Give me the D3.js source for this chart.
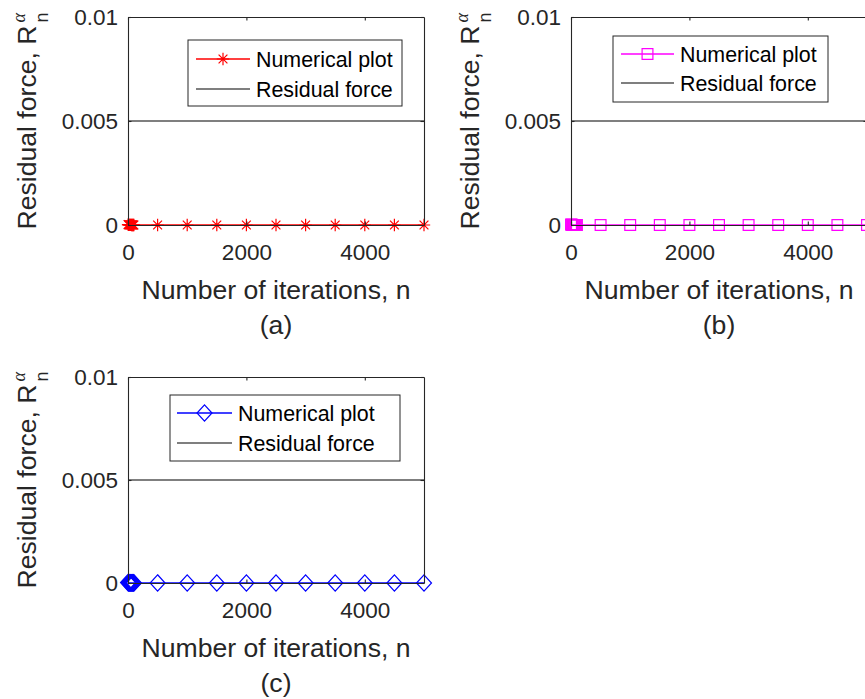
<!DOCTYPE html>
<html>
<head>
<meta charset="utf-8">
<script src="https://cdn.jsdelivr.net/npm/d3@7"></script>
<style>
  html, body { margin: 0; padding: 0; background: #fff; }
  svg { display: block; font-family: "Liberation Sans", Arial, sans-serif; }
</style>
</head>
<body>
<svg id="fig" width="865" height="699"></svg>
<script>
// Iteration numbers at which the residual was sampled
const iterations = [1, 10, 20, 30, 40, 50, 60, 70, 80, 90, 100, 500, 1000, 1500, 2000, 2500, 3000, 3500, 4000, 4500, 5000];
// Numerical residual force for the three cases
const residualA = [0.00002, 0.00001, 0.000008, 0.000006, 0.000005, 0.000004, 0.0000035, 0.000003, 0.0000025, 0.000002, 0.000002, 0.000001, 0.0000005, 0.0000003, 0.0000002, 0.0000001, 0.0000001, 0.0000001, 0.0000001, 0.0000001, 0.0000001];
const residualB = [0.00002, 0.00001, 0.000008, 0.000006, 0.000005, 0.000004, 0.0000035, 0.000003, 0.0000025, 0.000002, 0.000002, 0.000001, 0.0000005, 0.0000003, 0.0000002, 0.0000001, 0.0000001, 0.0000001, 0.0000001, 0.0000001, 0.0000001];
const residualC = [0.00002, 0.00001, 0.000008, 0.000006, 0.000005, 0.000004, 0.0000035, 0.000003, 0.0000025, 0.000002, 0.000002, 0.000001, 0.0000005, 0.0000003, 0.0000002, 0.0000001, 0.0000001, 0.0000001, 0.0000001, 0.0000001, 0.0000001];
// Residual force tolerance line
const toleranceN = [0, 5000];
const toleranceR = [0.005, 0.005];
// Axis ranges and ticks
const xDomain = [0, 5000];
const yDomain = [0, 0.01];
const xTicks = [0, 2000, 4000];
const yTicks = [0, 0.005, 0.01];
const yTickLabels = ["0", "0.005", "0.01"];
const panelTags = ["(a)", "(b)", "(c)"];
const legendLabels = ["Numerical plot", "Residual force"];

const AXIS_COLOR = "#262626";
const svg = d3.select("#fig");

// Marker shapes (centered at 0,0)
const markerPaths = {
  asterisk: () => {
    const r = 6.2, d = 4.4;
    return `M${-r},0L${r},0M0,${-r}L0,${r}M${-d},${-d}L${d},${d}M${-d},${d}L${d},${-d}`;
  },
  square: () => {
    const s = 5.4;
    return `M${-s},${-s}L${s},${-s}L${s},${s}L${-s},${s}Z`;
  },
  diamond: () => {
    const w = 7.5, h = 8.2;
    return `M0,${-h}L${w},0L0,${h}L${-w},0Z`;
  }
};

const panels = [
  { tag: panelTags[0], values: residualA, color: "#ff0000", marker: "asterisk",
    left: 128, right: 424, top: 17, bottom: 225,
    legend: { x: 188, y: 40, w: 214, h: 66, lineX0: 196, lineX1: 250, textX: 256, row0: 59, row1: 89 } },
  { tag: panelTags[1], values: residualB, color: "#ff00ff", marker: "square",
    left: 571, right: 867, top: 17, bottom: 225,
    legend: { x: 613, y: 36, w: 215, h: 66, lineX0: 621, lineX1: 674, textX: 680, row0: 54, row1: 83 } },
  { tag: panelTags[2], values: residualC, color: "#0000ff", marker: "diamond",
    left: 128, right: 424, top: 377, bottom: 583,
    legend: { x: 170, y: 395, w: 230, h: 66, lineX0: 177, lineX1: 232, textX: 238, row0: 413, row1: 443 } }
];

function drawPanel(p) {
  const x = d3.scaleLinear().domain(xDomain).range([p.left, p.right]);
  const y = d3.scaleLinear().domain(yDomain).range([p.bottom, p.top]);
  const g = svg.append("g");

  // white plot background
  g.append("rect").attr("x", p.left).attr("y", p.top)
    .attr("width", p.right - p.left).attr("height", p.bottom - p.top).attr("fill", "#fff");

  // tolerance line
  const line = d3.line().x(d => x(d[0])).y(d => y(d[1]));
  g.append("path").datum(toleranceN.map((n, i) => [n, toleranceR[i]]))
    .attr("d", line).attr("fill", "none").attr("stroke", "#000").attr("stroke-width", 1.2);

  // numerical residual
  const pts = iterations.map((n, i) => [n, p.values[i]]);
  g.append("path").datum(pts).attr("d", line)
    .attr("fill", "none").attr("stroke", p.color).attr("stroke-width", 1.3);
  g.selectAll("path.mk").data(pts).join("path").attr("class", "mk")
    .attr("transform", d => `translate(${x(d[0])},${y(d[1])})`)
    .attr("d", markerPaths[p.marker]())
    .attr("fill", "none").attr("stroke", p.color).attr("stroke-width", 1.2);

  // axes (inward ticks, box on)
  const styleAxis = sel => {
    sel.selectAll("path.domain").attr("stroke", AXIS_COLOR).attr("stroke-width", 1.1);
    sel.selectAll(".tick line").attr("stroke", AXIS_COLOR).attr("stroke-width", 1.1);
    sel.selectAll(".tick text").attr("fill", AXIS_COLOR)
      .style("font-size", "22.5px").style("font-family", "'Liberation Sans', Arial, sans-serif");
  };
  g.append("g").attr("transform", `translate(0,${p.bottom})`)
    .call(d3.axisBottom(x).tickValues(xTicks).tickFormat(d3.format("d"))
      .tickSizeInner(-3.5).tickSizeOuter(0).tickPadding(19))
    .call(styleAxis);
  g.append("g").attr("transform", `translate(0,${p.top})`)
    .call(d3.axisTop(x).tickValues(xTicks).tickFormat("").tickSizeInner(-3.5).tickSizeOuter(0))
    .call(styleAxis);
  g.append("g").attr("transform", `translate(${p.left},0)`)
    .call(d3.axisLeft(y).tickValues(yTicks).tickFormat((d, i) => yTickLabels[i])
      .tickSizeInner(-3.5).tickSizeOuter(0).tickPadding(10))
    .call(styleAxis);
  g.append("g").attr("transform", `translate(${p.right},0)`)
    .call(d3.axisRight(y).tickValues(yTicks).tickFormat("").tickSizeInner(-3.5).tickSizeOuter(0))
    .call(styleAxis);
  g.selectAll(".domain").attr("fill", "none");

  // x-axis title and panel tag
  const cx = p.left + 148;
  g.append("text").attr("x", cx).attr("y", p.bottom + 74)
    .attr("text-anchor", "middle").attr("fill", AXIS_COLOR)
    .style("font-size", "26.6px").text("Number of iterations, n");
  g.append("text").attr("x", cx).attr("y", p.bottom + 109)
    .attr("text-anchor", "middle").attr("fill", AXIS_COLOR)
    .style("font-size", "26.6px").text(p.tag);

  // y-axis title: Residual force, R_n^α (rotated)
  const cy = (p.top + p.bottom) / 2;
  const yl = g.append("g").attr("transform", `translate(${p.left - 92},${cy}) rotate(-90)`);
  const main = yl.append("text").attr("fill", AXIS_COLOR).style("font-size", "26.6px")
    .text("Residual force, R");
  const mainLen = main.node().getComputedTextLength();
  const sup = yl.append("text").attr("fill", AXIS_COLOR).style("font-size", "18px")
    .style("font-family", "'Liberation Serif', serif").style("font-style", "italic").text("α");
  const sub = yl.append("text").attr("fill", AXIS_COLOR).style("font-size", "18px").text("n");
  const scriptLen = Math.max(sup.node().getComputedTextLength(), sub.node().getComputedTextLength());
  const total = mainLen + 3 + scriptLen;
  const x0 = -total / 2;
  main.attr("x", x0).attr("y", 0);
  sup.attr("x", x0 + mainLen + 3).attr("y", -11);
  sub.attr("x", x0 + mainLen + 3).attr("y", 12);

  // legend
  const L = p.legend;
  const lg = g.append("g");
  lg.append("rect").attr("x", L.x).attr("y", L.y).attr("width", L.w).attr("height", L.h)
    .attr("fill", "#fff").attr("stroke", AXIS_COLOR).attr("stroke-width", 1);
  lg.append("line").attr("x1", L.lineX0).attr("x2", L.lineX1).attr("y1", L.row0).attr("y2", L.row0)
    .attr("stroke", p.color).attr("stroke-width", 1.3);
  lg.append("path").attr("transform", `translate(${(L.lineX0 + L.lineX1) / 2},${L.row0})`)
    .attr("d", markerPaths[p.marker]()).attr("fill", "none").attr("stroke", p.color).attr("stroke-width", 1.2);
  lg.append("line").attr("x1", L.lineX0).attr("x2", L.lineX1).attr("y1", L.row1).attr("y2", L.row1)
    .attr("stroke", "#000").attr("stroke-width", 1.2);
  [L.row0, L.row1].forEach((ry, i) => {
    lg.append("text").attr("x", L.textX).attr("y", ry + 7.5).attr("fill", "#000")
      .style("font-size", "21.4px").text(legendLabels[i]);
  });
}

panels.forEach(drawPanel);
</script>
</body>
</html>
